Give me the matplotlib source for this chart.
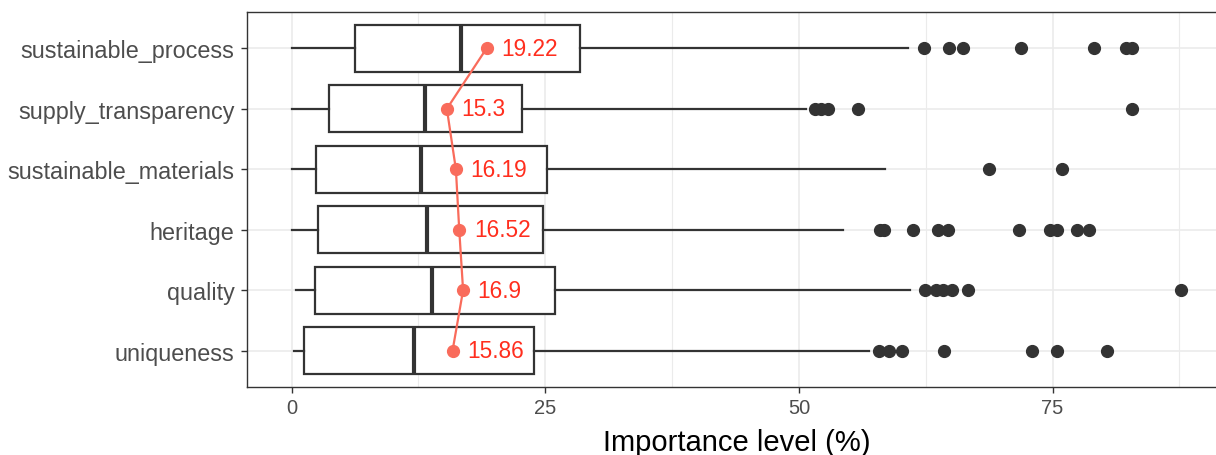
import numpy as np
import matplotlib
matplotlib.use("Agg")
import matplotlib.pyplot as plt

plt.rcParams["font.family"] = ["Liberation Sans", "DejaVu Sans"]

# categories from bottom to top
categories = ["uniqueness", "quality", "heritage", "sustainable_materials",
              "supply_transparency", "sustainable_process"]
whislo = [0.2, 0.4, 0.0, 0.0, 0.0, 0.0]
q1 = [1.25, 2.3, 2.6, 2.4, 3.7, 6.2]
med = [12.1, 13.8, 13.3, 12.8, 13.1, 16.7]
q3 = [23.9, 26.0, 24.8, 25.2, 22.7, 28.4]
whishi = [56.9, 61.0, 54.3, 58.5, 50.7, 60.8]
fliers = [
    [57.9, 58.9, 60.2, 64.3, 73.0, 75.4, 80.4],
    [62.4, 63.5, 64.2, 65.1, 66.7, 87.7],
    [58.0, 58.4, 61.2, 63.7, 64.7, 71.7, 74.8, 75.4, 77.4, 78.6],
    [68.7, 75.9],
    [51.6, 52.2, 52.9, 55.8, 82.8],
    [62.3, 64.8, 66.2, 71.9, 79.1, 82.2, 82.8],
]
means = [15.86, 16.9, 16.52, 16.19, 15.3, 19.22]
mean_labels = ["15.86", "16.9", "16.52", "16.19", "15.3", "19.22"]

box_col = "#333333"
mean_col = "#F96B5B"
text_col = "#FF2E1E"
grid_col = "#EBEBEB"

fig = plt.figure(figsize=(12.16, 4.56), dpi=100)
ax = fig.add_axes([247 / 1216, 1 - 388 / 456, 979 / 1216, 375 / 456])

pos = np.arange(1, len(categories) + 1)

# grid like theme_bw
for v in [12.5, 37.5, 62.5, 87.5]:
    ax.axvline(v, color=grid_col, lw=0.8, zorder=0)
for v in [0, 25, 50, 75]:
    ax.axvline(v, color=grid_col, lw=1.2, zorder=0)
for p in pos:
    ax.axhline(p, color=grid_col, lw=1.2, zorder=0)

stats = []
for i in range(len(categories)):
    stats.append(dict(whislo=whislo[i], q1=q1[i], med=med[i], q3=q3[i],
                      whishi=whishi[i], fliers=fliers[i], label=categories[i]))

ax.bxp(stats, positions=pos, vert=False, widths=0.77, showcaps=False,
       patch_artist=True,
       boxprops=dict(facecolor="white", edgecolor=box_col, lw=1.6),
       whiskerprops=dict(color=box_col, lw=1.6),
       medianprops=dict(color=box_col, lw=3.0),
       flierprops=dict(marker="o", markerfacecolor=box_col, markeredgecolor=box_col,
                       markersize=8.5, linestyle="none"),
       zorder=2)

ax.plot(means, pos, color=mean_col, lw=1.6, marker="o", markersize=8.5, zorder=4)
for m, p, lab in zip(means, pos, mean_labels):
    ax.annotate(lab, (m, p), xytext=(10.5, 0), textcoords="offset points",
                ha="left", va="center", color=text_col, fontsize=16.3, zorder=5)

ax.set_xlim(-4.4, 92.1)
ax.set_ylim(0.4, 6.6)
ax.set_yticks(pos)
ax.set_yticklabels(categories)
ax.set_xticks([0, 25, 50, 75])
ax.set_xticklabels(["0", "25", "50", "75"])
ax.tick_params(axis="y", labelsize=16.8, labelcolor="#4D4D4D", color=box_col,
               length=4, width=1, pad=5)
ax.tick_params(axis="x", labelsize=14.5, labelcolor="#4D4D4D", color=box_col,
               length=4, width=1, pad=4)
ax.set_xlabel("Importance level (%)", fontsize=21, color="black", labelpad=8)
for s in ax.spines.values():
    s.set_color(box_col)
    s.set_linewidth(1.0)

fig.savefig("out.png", dpi=100)
